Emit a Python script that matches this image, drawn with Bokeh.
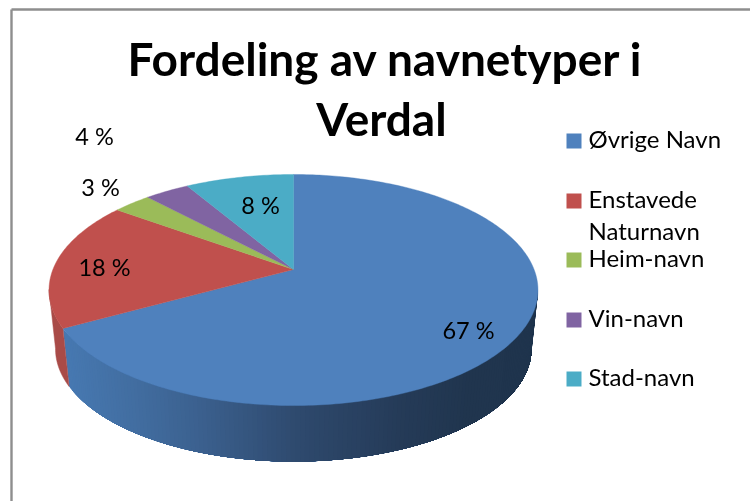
import numpy as np
from bokeh.plotting import figure
from bokeh.embed import file_html
from bokeh.resources import INLINE
from bokeh.core.properties import value

# ---- data
categories = ["Øvrige Navn", "Enstavede\nNaturnavn", "Heim-navn", "Vin-navn", "Stad-navn"]
values = [67.0, 18.0, 3.0, 3.5, 8.5]
pct_labels = ["67 %", "18 %", "3 %", "4 %", "8 %"]
colors = ["#4f81bd", "#c0504d", "#9bbb59", "#8064a2", "#4bacc6"]
title_lines = ["Fordeling av navnetyper i", "Verdal"]

# ---- layout (window pixels)
FONT = "Lato"
W, H = 750, 501
p = figure(width=W, height=H, x_range=(0, W), y_range=(H, 0),
           output_backend="svg", toolbar_location=None, min_border=0,
           outline_line_color=None, background_fill_color="white",
           border_fill_color="white",
           styles={"position": "fixed", "left": "0px", "top": "0px"})
p.axis.visible = False
p.grid.visible = False

CX, APEX_T = 293.0, 269.0
K, R, Q = 0.1775, 240.6, 111.9
S = 0.9734
APEX_B = 328.6


def top(theta):
    u, v = np.sin(theta), -np.cos(theta)
    w = 1 - K * v
    return CX + R * u / w, APEX_T + Q * v / w


def bottom(theta):
    u, v = np.sin(theta), -np.cos(theta)
    w = 1 - K * v
    return CX + S * R * u / w, APEX_B + S * Q * v / w


edges = np.radians(np.concatenate([[0], np.cumsum(values)]) * 3.6)

# frame
p.segment(x0=[11, 11], y0=[9, 9], x1=[11, W], y1=[H, 9],
          line_color="#8e8e8e", line_width=2.4)

# side wall, painted from the dark end so that each strip overlaps the last
stops_x = [60, 130, 200, 300, 400, 470, 540]
stops_c = np.array([[0x47, 0x79, 0xb2], [0x42, 0x6e, 0xa1], [0x3b, 0x60, 0x8e],
                    [0x2e, 0x49, 0x6d], [0x25, 0x3b, 0x58], [0x20, 0x35, 0x4e],
                    [0x1f, 0x34, 0x4d]], dtype=float)
wall_theta = np.radians(np.linspace(100, np.degrees(edges[1]), 150))
xs_w, ys_w, cs_w = [], [], []
for a, b in zip(wall_theta[:-1], wall_theta[1:]):
    th = np.linspace(wall_theta[0], b, 40)
    xt, yt = top(th)
    xb, yb = bottom(th[::-1])
    xs_w.append(list(np.r_[xt, xb]))
    ys_w.append(list(np.r_[yt, yb]))
    xm = (top(a)[0] + top(b)[0]) / 2
    rgb = [int(round(np.interp(xm, stops_x, stops_c[:, i]))) for i in range(3)]
    cs_w.append("#%02x%02x%02x" % tuple(rgb))
p.patches(xs_w[::-1], ys_w[::-1], fill_color=cs_w[::-1], line_color=None)

red_theta = np.linspace(edges[1], np.radians(260), 20)
rx_t, ry_t = top(red_theta)
rx_b, ry_b = bottom(red_theta[::-1])
p.patch(np.r_[rx_t, rx_b], np.r_[ry_t, ry_b], fill_color="#a94b48", line_color="#a94b48", line_width=0.5)

# top face
for i, col in enumerate(colors):
    n = max(4, int(values[i] * 4))
    th = np.linspace(edges[i], edges[i + 1], n)
    x, y = top(th)
    p.patch(np.r_[CX, x], np.r_[APEX_T, y], fill_color=col, line_color=col, line_width=0.4)

# percent labels
lab_x = [468, 104, 100, 94, 260]
lab_y = [329, 266, 186, 135, 204]
p.text(lab_x, lab_y, text=pct_labels, text_font=value(FONT), text_font_size="23.5px",
       text_color="#000000", text_align="center", text_baseline="middle")

# title
p.text([385, 381], [58, 118], text=title_lines, text_font=value(FONT),
       text_font_style="bold", text_font_size="46px", text_color="#000000",
       text_align="center", text_baseline="middle")

# legend
sw_y = [140.5, 200.5, 259.5, 319.5, 378.5]
p.quad(left=[566] * 5, right=[581] * 5, top=[y - 7.5 for y in sw_y],
       bottom=[y + 7.5 for y in sw_y], fill_color=colors, line_color=None)
leg_x, leg_y, leg_t = [], [], []
for y, name in zip(sw_y, categories):
    for j, part in enumerate(name.split("\n")):
        leg_x.append(588)
        leg_y.append(y - 2.5 + 32 * j)
        leg_t.append(part)
p.text(leg_x, leg_y, text=leg_t, text_font=value(FONT), text_font_size="24px",
       text_color="#000000", text_align="left", text_baseline="middle")

open("out.html", "w").write(file_html(p, INLINE))
